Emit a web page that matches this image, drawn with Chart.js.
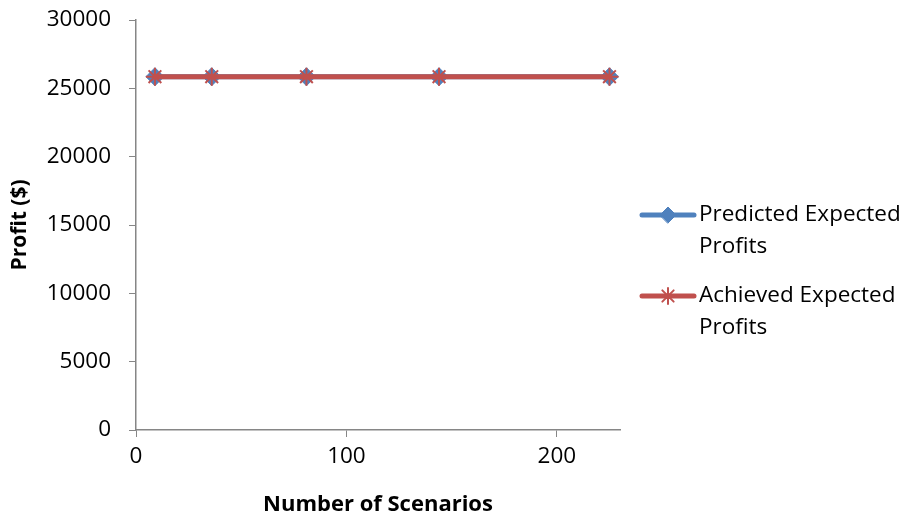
<!DOCTYPE html>
<html>
<head>
<meta charset="utf-8">
<script src="https://cdn.jsdelivr.net/npm/chart.js@4/dist/chart.umd.min.js"></script>
<style>
  body { margin: 0; background: #fff; }
  canvas { display: block; }
</style>
</head>
<body>
<canvas id="profitChart" width="913" height="519"></canvas>
<script>
const scenarios = [9, 36, 81, 144, 225];
const predictedProfits = [25850, 25850, 25850, 25850, 25850];
const achievedProfits = [25850, 25850, 25850, 25850, 25850];
const seriesNames = [["Predicted Expected", "Profits"], ["Achieved Expected", "Profits"]];
const xTitle = "Number of Scenarios";
const yTitle = "Profit ($)";

const FONT = "'Open Sans', sans-serif";
const AXIS = "#868686";
const BLUE = "#4F81BD";
const RED = "#C0504D";

function toPoints(xs, ys) {
  return xs.map((x, i) => ({ x: x, y: ys[i] }));
}

// legend on the right, drawn by hand so the sample can show line + marker
const sideLegend = {
  id: "sideLegend",
  afterDraw(chart) {
    const ctx = chart.ctx;
    const rows = [215, 296];
    ctx.save();
    chart.data.datasets.forEach((ds, i) => {
      const y = rows[i];
      ctx.strokeStyle = ds.borderColor;
      ctx.lineWidth = 5;
      ctx.lineCap = "round";
      ctx.beginPath();
      ctx.moveTo(642, y);
      ctx.lineTo(694, y);
      ctx.stroke();
      ctx.fillStyle = ds.pointBackgroundColor;
      ctx.strokeStyle = ds.pointBorderColor;
      ctx.lineWidth = ds.pointBorderWidth;
      Chart.helpers.drawPoint(ctx, {
        pointStyle: ds.pointStyle,
        radius: 8,
        borderWidth: ds.pointBorderWidth,
        rotation: 0
      }, 668, y);
      ctx.fillStyle = "#000";
      ctx.font = "22.5px " + FONT;
      ctx.textBaseline = "middle";
      ctx.textAlign = "left";
      ds.label.forEach((line, j) => {
        ctx.fillText(line, 699, y + j * 32);
      });
    });
    ctx.restore();
  }
};

new Chart(document.getElementById("profitChart"), {
  type: "line",
  data: {
    datasets: [
      {
        label: seriesNames[0],
        data: toPoints(scenarios, predictedProfits),
        order: 2,
        borderColor: BLUE,
        borderWidth: 5,
        pointStyle: "rectRot",
        pointRadius: 9,
        pointBackgroundColor: BLUE,
        pointBorderColor: BLUE,
        pointBorderWidth: 1
      },
      {
        label: seriesNames[1],
        data: toPoints(scenarios, achievedProfits),
        order: 1,
        borderColor: RED,
        borderWidth: 5,
        pointStyle: "star",
        pointRadius: 9,
        pointBackgroundColor: RED,
        pointBorderColor: RED,
        pointBorderWidth: 2
      }
    ]
  },
  options: {
    responsive: false,
    animation: false,
    layout: { padding: { left: 0, top: 20, right: 293, bottom: 0 } },
    plugins: {
      legend: { display: false },
      tooltip: { enabled: false }
    },
    scales: {
      x: {
        type: "linear",
        min: 0,
        max: 230,
        afterFit: (s) => { s.height = 89; s.paddingLeft = 0; s.paddingRight = 0; },
        ticks: {
          stepSize: 100,
          includeBounds: false,
          color: "#000",
          font: { family: FONT, size: 22.5 },
          padding: 6
        },
        grid: { drawOnChartArea: false, drawTicks: true, tickLength: 7, color: AXIS },
        border: { color: AXIS, width: 1.5 },
        title: {
          display: true,
          text: xTitle,
          color: "#000",
          font: { family: FONT, size: 22, weight: "bold" },
          padding: { top: 0, bottom: 1 }
        }
      },
      y: {
        min: 0,
        max: 30000,
        afterFit: (s) => { s.width = 136; s.paddingTop = 0; s.paddingBottom = 0; },
        ticks: {
          stepSize: 5000,
          color: "#000",
          font: { family: FONT, size: 22.5 },
          padding: 18,
          callback: (v) => String(v)
        },
        grid: { drawOnChartArea: false, drawTicks: true, tickLength: 7, color: AXIS },
        border: { color: AXIS, width: 1.5 },
        title: {
          display: true,
          text: yTitle,
          color: "#000",
          font: { family: FONT, size: 21, weight: "bold" },
          padding: { top: 7, bottom: 0 }
        }
      }
    }
  },
  plugins: [sideLegend]
});
</script>
</body>
</html>
